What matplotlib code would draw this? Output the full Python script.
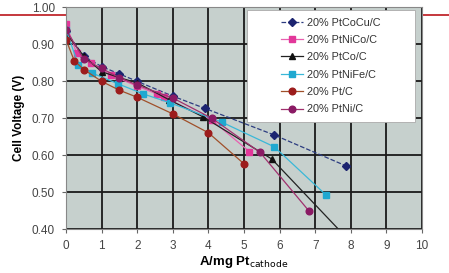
import matplotlib.pyplot as plt
from matplotlib.lines import Line2D
from matplotlib.patches import Rectangle

# current density (A/mg Pt cathode) and cell voltage (V) per catalyst
labels = ["20% PtCoCu/C", "20% PtNiCo/C", "20% PtCo/C",
          "20% PtNiFe/C", "20% Pt/C", "20% PtNi/C"]

x_ptcocu = [0, 0.5, 1.0, 1.5, 2.0, 3.0, 3.9, 5.85, 7.85]
y_ptcocu = [0.935, 0.868, 0.84, 0.82, 0.80, 0.76, 0.727, 0.655, 0.572]

x_ptnico = [0, 0.3, 0.7, 1.25, 2.0, 2.55, 2.75, 4.1, 5.15]
y_ptnico = [0.955, 0.876, 0.85, 0.817, 0.787, 0.766, 0.757, 0.695, 0.61]

x_ptco = [0, 0.5, 1.0, 1.5, 2.0, 2.9, 3.85, 5.78, 8.0]
y_ptco = [0.93, 0.868, 0.826, 0.81, 0.796, 0.75, 0.704, 0.59, 0.365]

x_ptnife = [0, 0.35, 0.72, 1.47, 2.17, 2.92, 4.37, 5.85, 7.3]
y_ptnife = [0.94, 0.844, 0.823, 0.793, 0.766, 0.742, 0.69, 0.623, 0.493]

x_ptc = [0, 0.23, 0.5, 1.0, 1.5, 2.0, 3.0, 4.0, 5.0]
y_ptc = [0.913, 0.856, 0.832, 0.80, 0.776, 0.757, 0.712, 0.661, 0.577]

x_ptni = [0, 0.5, 1.0, 1.5, 2.0, 3.0, 4.1, 5.45, 6.82]
y_ptni = [0.94, 0.86, 0.835, 0.81, 0.79, 0.755, 0.70, 0.608, 0.45]

x_ticks = list(range(0, 11))
y_ticks = [0.40, 0.50, 0.60, 0.70, 0.80, 0.90, 1.00]

series = [
    (x_ptcocu, y_ptcocu, "D", "#1c2470", "#2c3c80", "--"),
    (x_ptnico, y_ptnico, "s", "#e2379a", "#e860b0", "-"),
    (x_ptco, y_ptco, "^", "#111111", "#222222", "-"),
    (x_ptnife, y_ptnife, "s", "#1fa8d0", "#3ab8d8", "-"),
    (x_ptc, y_ptc, "o", "#9c1c1c", "#a0502a", "-"),
    (x_ptni, y_ptni, "o", "#8a1a64", "#a0306e", "-"),
]

plt.rcParams["font.family"] = ["Liberation Sans", "DejaVu Sans"]

fig = plt.figure(figsize=(4.49, 2.73), dpi=100)
fig.patch.set_facecolor("white")

# red reference line running across the whole figure, behind the axes
fig.add_artist(Line2D([0, 1], [0.945, 0.945], transform=fig.transFigure,
                      color="#c0282d", linewidth=1.3, zorder=-1))

ax = fig.add_axes([0.147, 0.160, 0.793, 0.813])
ax.set_facecolor("#c6d0cd")

for (xs, ys, m, mc, lc, ls), lab in zip(series, labels):
    ax.plot(xs, ys, linestyle=ls, color=lc, linewidth=0.9,
            marker=m, markersize=4.8 if m != "D" else 4,
            markerfacecolor=mc, markeredgecolor=mc, label=lab)

ax.set_xlim(0, 10)
ax.set_ylim(0.40, 1.00)
ax.set_xticks(x_ticks)
ax.set_yticks(y_ticks)
ax.set_yticklabels([f"{v:.2f}" for v in y_ticks])
ax.grid(True, color="#1a1a1a", linewidth=1.3)
ax.set_axisbelow(True)
ax.tick_params(labelsize=8.5, colors="#444444", length=3, color="#666666",
               pad=5)

for side, spine in ax.spines.items():
    spine.set_color("#888888")
    spine.set_linewidth(0.8)

ax.set_ylabel("Cell Voltage (V)", fontsize=8.5, fontweight="bold", labelpad=5)
ax.set_xlabel("A/mg Pt$_{\\mathrm{cathode}}$", fontsize=9.5, fontweight="bold",
              labelpad=1)

# wide white legend box, legend entries centred inside it
ax.add_patch(Rectangle((0.507, 0.485), 0.473, 0.503, transform=ax.transAxes,
                       facecolor="white", edgecolor="#aaaaaa", linewidth=0.6,
                       zorder=4))
leg = ax.legend(loc="center", bbox_to_anchor=(0.744, 0.736), fontsize=7.8,
                frameon=False, handlelength=2.0, handletextpad=0.4,
                labelspacing=0.68, labelcolor="#333333")
leg.set_zorder(5)

fig.savefig("out.png", dpi=100)
